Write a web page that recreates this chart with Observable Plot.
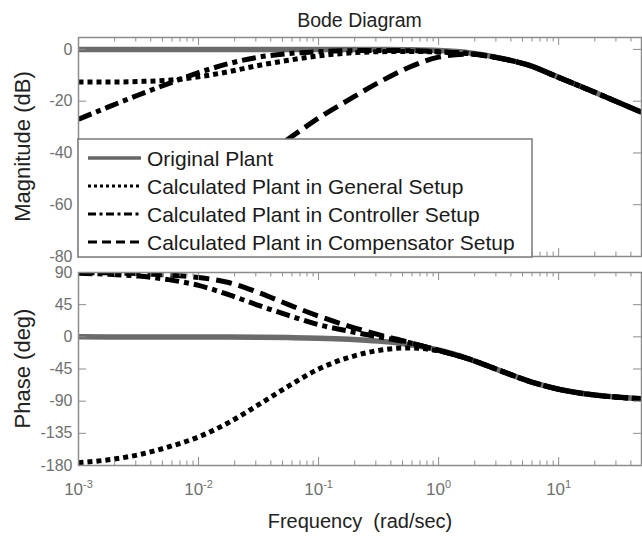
<!DOCTYPE html>
<html>
<head>
<meta charset="utf-8">
<script src="https://cdn.jsdelivr.net/npm/d3@7"></script>
<script src="https://cdn.jsdelivr.net/npm/@observablehq/plot@0.6"></script>
<style>
  html, body { margin: 0; padding: 0; background: #fff; }
  #wrap { position: relative; width: 642px; height: 536px; overflow: hidden; font-family: "Liberation Sans", Arial, sans-serif; }
  #wrap > svg { position: absolute; left: 0; display: block; }
</style>
</head>
<body>
<div id="wrap"></div>
<script>
// ---------------- data ----------------
const freq = [0.001, 0.00178, 0.00316, 0.00562, 0.01, 0.0178, 0.0316, 0.0562, 0.1, 0.178, 0.316, 0.562, 1, 1.78, 3.16, 5.62, 10, 17.8, 31.6, 49];

const seriesNames = ["Original Plant", "Calculated Plant in General Setup", "Calculated Plant in Controller Setup", "Calculated Plant in Compensator Setup"];

const magOriginal    = [0, 0, 0, 0, 0, 0, 0, 0, 0, 0, -0.05, -0.15, -0.46, -1.3, -3.2, -6.1, -10.8, -15.6, -20.5, -24.3];
const magGeneral     = [-12.6, -12.6, -12.4, -11.9, -10.6, -8.6, -6.2, -4.2, -2.5, -1.4, -0.9, -0.8, -1.0, -1.6, -3.3, -6.1, -10.8, -15.6, -20.5, -24.3];
const magController  = [-27, -22.2, -17.6, -13.2, -9, -5.5, -3, -1.6, -0.9, -0.5, -0.4, -0.5, -0.9, -1.6, -3.3, -6.1, -10.8, -15.6, -20.5, -24.3];
const magCompensator = [null, null, null, null, null, -50, -42, -34.5, -26.5, -19.5, -12.8, -7, -3, -1.8, -3.3, -6.1, -10.8, -15.6, -20.5, -24.3];

const phaseOriginal    = [0, -0.1, -0.1, -0.1, -0.2, -0.3, -0.6, -1.1, -1.9, -3.4, -6, -10.6, -18.4, -30.7, -46.5, -61.9, -73.3, -80.4, -84.6, -86.5];
const phaseGeneral     = [-176, -172, -165, -154, -140, -120, -95, -69, -45, -29, -19, -15.5, -19.5, -31, -46.5, -61.9, -73.3, -80.4, -84.6, -86.5];
const phaseController  = [89, 87.5, 85, 80, 72, 59, 44, 30, 17, 8, 0, -8, -19, -31, -46.5, -61.9, -73.3, -80.4, -84.6, -86.5];
const phaseCompensator = [90, 89.5, 88.5, 86.5, 83, 76, 62, 45, 29, 15, 3, -7.5, -19, -31, -46.5, -61.9, -73.3, -80.4, -84.6, -86.5];

const magTicks = [0, -20, -40, -60, -80];
const phaseTicks = [90, 45, 0, -45, -90, -135, -180];
const freqTicks = [0.001, 0.01, 0.1, 1, 10];
const freqTickLabels = ["10^-3", "10^-2", "10^-1", "10^0", "10^1"];

const titleText = "Bode Diagram";
const magLabel = "Magnitude (dB)";
const phaseLabel = "Phase (deg)";
const freqLabel = "Frequency  (rad/sec)";

// ---------------- styles ----------------
const lineStyles = [
  {stroke: "#6b6b6b", strokeWidth: 5.5, dash: null},
  {stroke: "#000", strokeWidth: 5, dash: "5,4"},
  {stroke: "#000", strokeWidth: 5, dash: "14,5,5,5"},
  {stroke: "#000", strokeWidth: 5, dash: "16,7"}
];
const legendStyles = [
  {stroke: "#666", strokeWidth: 3.5, dash: null},
  {stroke: "#000", strokeWidth: 3, dash: "3,3"},
  {stroke: "#000", strokeWidth: 3, dash: "8,3.5,3,3.5"},
  {stroke: "#000", strokeWidth: 3, dash: "9,5"}
];
const frameColor = "#8c8c8c";
const tickLabelColor = "#707070";
const W = 642;
const xDomain = [0.001, 49];

const minorTicks = [];
for (const d of [0.001, 0.01, 0.1, 1, 10]) for (let m = 2; m <= 9; m++) { const v = m * d; if (v <= xDomain[1]) minorTicks.push(v); }

function rows(arr) { return freq.map((f, i) => ({f, v: arr[i]})); }

function panel({height, marginTop, marginBottom, yDomain, yTicks, data, showX}) {
  const marginLeft = 78, marginRight = 1;
  const fh = height - marginTop - marginBottom;
  const fw = W - marginLeft - marginRight;
  const marks = [];
  data.forEach((arr, i) => {
    const s = lineStyles[i];
    marks.push(Plot.line(rows(arr), {x: "f", y: "v", stroke: s.stroke, strokeWidth: s.strokeWidth,
      strokeDasharray: s.dash || undefined, strokeLinecap: "butt", curve: "monotone-x", clip: true}));
  });
  marks.push(
    Plot.tickX(freqTicks, {x: d => d, stroke: frameColor, strokeWidth: 1, insetBottom: fh - 8}),
    Plot.tickX(freqTicks, {x: d => d, stroke: frameColor, strokeWidth: 1, insetTop: fh - 8}),
    Plot.tickX(minorTicks, {x: d => d, stroke: frameColor, strokeWidth: 1, insetBottom: fh - 4.5}),
    Plot.tickX(minorTicks, {x: d => d, stroke: frameColor, strokeWidth: 1, insetTop: fh - 4.5}),
    Plot.tickY(yTicks, {y: d => d, stroke: frameColor, strokeWidth: 1, insetRight: fw - 8}),
    Plot.tickY(yTicks, {y: d => d, stroke: frameColor, strokeWidth: 1, insetLeft: fw - 8}),
    Plot.frame({stroke: frameColor, strokeWidth: 1.5}),
    Plot.text(yTicks, {y: d => d, text: d => String(d), frameAnchor: "left", textAnchor: "end", dx: -6,
      fill: tickLabelColor, fontSize: 16})
  );
  if (showX) {
    marks.push(Plot.text(freqTicks, {x: d => d, text: (d, i) => freqTickLabels[i], frameAnchor: "bottom",
      dy: 24, lineAnchor: "middle", fill: tickLabelColor, fontSize: 17}));
  }
  return Plot.plot({
    width: W, height, marginTop, marginBottom, marginLeft, marginRight,
    style: {fontFamily: "Liberation Sans, Arial, sans-serif", background: "transparent", overflow: "visible"},
    x: {type: "log", domain: xDomain, axis: null},
    y: {domain: yDomain, axis: null},
    marks
  });
}

const wrap = document.getElementById("wrap");

const magPanel = panel({height: 260, marginTop: 37, marginBottom: 4, yDomain: [-80, 4.6], yTicks: magTicks,
  data: [magOriginal, magGeneral, magController, magCompensator], showX: false});
magPanel.style.top = "0px";
wrap.appendChild(magPanel);

const phasePanel = panel({height: 276, marginTop: 12, marginBottom: 71, yDomain: [-180, 90], yTicks: phaseTicks,
  data: [phaseOriginal, phaseGeneral, phaseController, phaseCompensator], showX: true});
phasePanel.style.top = "260px";
wrap.appendChild(phasePanel);

// superscript exponents on frequency tick labels
phasePanel.querySelectorAll("text").forEach(t => {
  if (!t.textContent.includes("^")) return;
  const [base, exp] = t.textContent.split("^");
  t.textContent = base;
  const ts = document.createElementNS("http://www.w3.org/2000/svg", "tspan");
  ts.setAttribute("dy", "-7");
  ts.setAttribute("font-size", "11");
  ts.textContent = exp;
  t.appendChild(ts);
});

// ---------------- overlay: titles and legend ----------------
const ov = d3.create("svg").attr("width", W).attr("height", 536).style("top", "0px")
  .style("pointer-events", "none").style("font-family", "Liberation Sans, Arial, sans-serif");

ov.append("text").attr("x", 359.5).attr("y", 27).attr("text-anchor", "middle")
  .attr("font-size", 19.5).attr("fill", "#222").text(titleText);
ov.append("text").attr("transform", "translate(22,146.5) rotate(-90)").attr("text-anchor", "middle")
  .attr("dominant-baseline", "central").attr("font-size", 22).attr("fill", "#222").text(magLabel);
ov.append("text").attr("transform", "translate(22,368.5) rotate(-90)").attr("text-anchor", "middle")
  .attr("dominant-baseline", "central").attr("font-size", 22).attr("fill", "#222").text(phaseLabel);
ov.append("text").attr("x", 360).attr("y", 528).attr("text-anchor", "middle").style("white-space", "pre")
  .attr("font-size", 20).attr("fill", "#222").text(freqLabel);

const lg = ov.append("g");
lg.append("rect").attr("x", 78).attr("y", 139).attr("width", 454).attr("height", 118)
  .attr("fill", "#fff").attr("stroke", "#7a7a7a").attr("stroke-width", 1.5);
const rowY = [158, 186, 214, 242];
seriesNames.forEach((name, i) => {
  const s = legendStyles[i];
  lg.append("line").attr("x1", 88).attr("x2", 141).attr("y1", rowY[i]).attr("y2", rowY[i])
    .attr("stroke", s.stroke).attr("stroke-width", s.strokeWidth).attr("stroke-dasharray", s.dash);
  lg.append("text").attr("x", 147).attr("y", rowY[i]).attr("dominant-baseline", "central")
    .attr("font-size", 21).attr("fill", "#1a1a1a").text(name);
});
wrap.appendChild(ov.node());
</script>
</body>
</html>
